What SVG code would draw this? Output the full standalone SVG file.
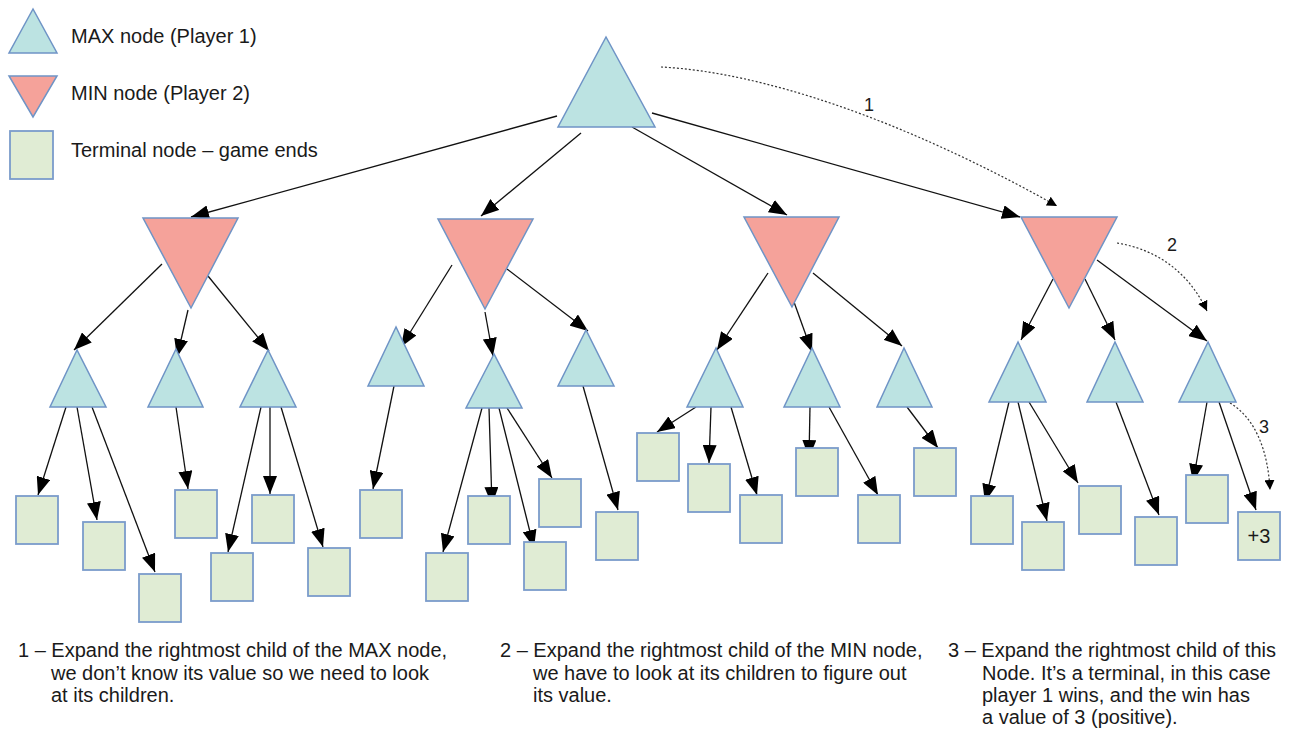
<svg xmlns="http://www.w3.org/2000/svg" width="1291" height="748" viewBox="0 0 1291 748">
<defs>
<style>
.max{fill:#bce3e2;stroke:#6f94c6;stroke-width:1.5}
.min{fill:#f5a29a;stroke:#6f94c6;stroke-width:1.5}
.term{fill:#e0ecd4;stroke:#7b9ccb;stroke-width:1.8}
.e{stroke:#111;stroke-width:1.3;fill:none;marker-end:url(#ah)}
.d{stroke:#333;stroke-width:1.2;fill:none;stroke-dasharray:2 2;marker-end:url(#ahs)}
text{font-family:"Liberation Sans",Arial,sans-serif;fill:#1a1a1a}
.t{font-size:20px}
.lbl{font-size:18px}
</style>
<marker id="ah" markerUnits="userSpaceOnUse" markerWidth="19" markerHeight="14" refX="18" refY="7" orient="auto"><path d="M0,0 L18,7 L0,14 z" fill="#000"/></marker>
<marker id="ahs" markerUnits="userSpaceOnUse" markerWidth="11" markerHeight="10" refX="10" refY="5" orient="auto"><path d="M0,0 L10,5 L0,10 z" fill="#000"/></marker>
</defs>
<rect width="1291" height="748" fill="#fff"/>

<g id="legend">
<polygon class="max" points="33,9 9,53 57,53"/>
<text class="t" x="71" y="43">MAX node (Player 1)</text>
<polygon class="min" points="9,76 57,76 33,117"/>
<text class="t" x="71" y="100">MIN node (Player 2)</text>
<rect class="term" x="10" y="131" width="43" height="48"/>
<text class="t" x="71" y="157">Terminal node – game ends</text>
</g>

<g id="connectors">
<line class="e" x1="557" y1="116" x2="191" y2="217"/>
<line class="e" x1="581" y1="133" x2="481" y2="216"/>
<line class="e" x1="632" y1="127" x2="787" y2="215"/>
<line class="e" x1="652" y1="113" x2="1020" y2="217"/>

<line class="e" x1="162" y1="264" x2="74" y2="350"/>
<line class="e" x1="188" y1="310" x2="177" y2="357"/>
<line class="e" x1="208" y1="276" x2="269" y2="351"/>
<line class="e" x1="66" y1="407" x2="38" y2="495"/>
<line class="e" x1="77" y1="407" x2="97" y2="520"/>
<line class="e" x1="92" y1="407" x2="155" y2="572"/>
<line class="e" x1="176" y1="407" x2="188" y2="489"/>
<line class="e" x1="261" y1="407" x2="228" y2="552"/>
<line class="e" x1="270" y1="407" x2="270" y2="494"/>
<line class="e" x1="281" y1="407" x2="323" y2="547"/>

<line class="e" x1="452" y1="265" x2="401" y2="347"/>
<line class="e" x1="485" y1="312" x2="493" y2="356"/>
<line class="e" x1="507" y1="269" x2="588" y2="331"/>
<line class="e" x1="394" y1="386" x2="373" y2="489"/>
<line class="e" x1="482" y1="408" x2="443" y2="552"/>
<line class="e" x1="489" y1="408" x2="492" y2="505"/>
<line class="e" x1="499" y1="408" x2="534" y2="548"/>
<line class="e" x1="507" y1="408" x2="552" y2="478"/>
<line class="e" x1="583" y1="386" x2="618" y2="510"/>

<line class="e" x1="768" y1="273" x2="717" y2="350"/>
<line class="e" x1="794" y1="302" x2="812" y2="352"/>
<line class="e" x1="813" y1="273" x2="902" y2="346"/>
<line class="e" x1="696" y1="407" x2="657" y2="432"/>
<line class="e" x1="711" y1="407" x2="709" y2="463"/>
<line class="e" x1="731" y1="407" x2="757" y2="495"/>
<line class="e" x1="810" y1="407" x2="809" y2="458"/>
<line class="e" x1="829" y1="407" x2="878" y2="495"/>
<line class="e" x1="907" y1="407" x2="938" y2="448"/>

<line class="e" x1="1053" y1="279" x2="1021" y2="340"/>
<line class="e" x1="1085" y1="279" x2="1115" y2="340"/>
<line class="e" x1="1097" y1="260" x2="1207" y2="341"/>
<line class="e" x1="1009" y1="402" x2="985" y2="502"/>
<line class="e" x1="1018" y1="402" x2="1047" y2="521"/>
<line class="e" x1="1029" y1="402" x2="1078" y2="483"/>
<line class="e" x1="1116" y1="402" x2="1159" y2="515"/>
<line class="e" x1="1207" y1="402" x2="1193" y2="482"/>
<line class="e" x1="1219" y1="402" x2="1256" y2="510"/>

<path class="d" d="M661,67 C760,72 900,118 1057,206"/>
<path class="d" d="M1117,243 C1160,250 1190,275 1207,311"/>
<path class="d" d="M1230,403 C1255,418 1268,450 1270,490"/>
<text class="lbl" x="864" y="111">1</text>
<text class="lbl" x="1167" y="251">2</text>
<text class="lbl" x="1259" y="433">3</text>
</g>

<g id="root"><polygon class="max" points="606,37 558,127 655,127"/></g>

<g id="min1"><polygon class="min" points="143,218 238,218 191,308"/></g>
<g id="min2"><polygon class="min" points="438,219 533,219 485,309"/></g>
<g id="min3"><polygon class="min" points="744,217 839,217 792,307"/></g>
<g id="min4"><polygon class="min" points="1021,217 1117,217 1069,308"/></g>

<g id="maxA"><polygon class="max" points="77,350 50,407 106,407"/></g>
<g id="maxB"><polygon class="max" points="176,349 148,407 203,407"/></g>
<g id="maxC"><polygon class="max" points="268,350 240,407 296,407"/></g>
<g id="maxD"><polygon class="max" points="396,327 368,386 424,386"/></g>
<g id="maxE"><polygon class="max" points="494,354 466,408 522,408"/></g>
<g id="maxF"><polygon class="max" points="586,330 558,386 614,386"/></g>
<g id="maxG"><polygon class="max" points="716,348 687,407 743,407"/></g>
<g id="maxH"><polygon class="max" points="812,348 784,407 840,407"/></g>
<g id="maxI"><polygon class="max" points="904,348 877,407 932,407"/></g>
<g id="maxJ"><polygon class="max" points="1018,342 989,402 1046,402"/></g>
<g id="maxK"><polygon class="max" points="1115,342 1087,402 1143,402"/></g>
<g id="maxL"><polygon class="max" points="1208,342 1179,402 1236,402"/></g>

<g id="t1"><rect class="term" x="16" y="496" width="42" height="48"/></g>
<g id="t2"><rect class="term" x="83" y="522" width="42" height="48"/></g>
<g id="t3"><rect class="term" x="139" y="574" width="42" height="48"/></g>
<g id="t4"><rect class="term" x="175" y="490" width="42" height="48"/></g>
<g id="t5"><rect class="term" x="211" y="553" width="42" height="48"/></g>
<g id="t6"><rect class="term" x="252" y="495" width="42" height="48"/></g>
<g id="t7"><rect class="term" x="308" y="548" width="42" height="48"/></g>
<g id="t8"><rect class="term" x="360" y="490" width="42" height="48"/></g>
<g id="t9"><rect class="term" x="426" y="553" width="42" height="48"/></g>
<g id="t10"><rect class="term" x="468" y="496" width="42" height="48"/></g>
<g id="t11"><rect class="term" x="524" y="542" width="42" height="48"/></g>
<g id="t12"><rect class="term" x="539" y="479" width="42" height="48"/></g>
<g id="t13"><rect class="term" x="596" y="512" width="42" height="48"/></g>
<g id="t14"><rect class="term" x="637" y="433" width="42" height="48"/></g>
<g id="t15"><rect class="term" x="688" y="464" width="42" height="48"/></g>
<g id="t16"><rect class="term" x="740" y="495" width="42" height="48"/></g>
<g id="t17"><rect class="term" x="796" y="448" width="42" height="48"/></g>
<g id="t18"><rect class="term" x="858" y="495" width="42" height="48"/></g>
<g id="t19"><rect class="term" x="914" y="448" width="42" height="48"/></g>
<g id="t20"><rect class="term" x="971" y="496" width="42" height="48"/></g>
<g id="t21"><rect class="term" x="1022" y="522" width="42" height="48"/></g>
<g id="t22"><rect class="term" x="1079" y="486" width="42" height="48"/></g>
<g id="t23"><rect class="term" x="1135" y="517" width="42" height="48"/></g>
<g id="t24"><rect class="term" x="1186" y="475" width="42" height="48"/></g>
<g id="t25"><rect class="term" x="1238" y="512" width="42" height="48"/><text x="1259" y="543" font-size="20" text-anchor="middle">+3</text></g>

<g id="notes">
<text class="t" x="18" y="657">1 – Expand the rightmost child of the MAX node,</text>
<text class="t" x="51" y="680">we don’t know its value so we need to look</text>
<text class="t" x="51" y="702">at its children.</text>
<text class="t" x="500" y="657">2 – Expand the rightmost child of the MIN node,</text>
<text class="t" x="533" y="680">we have to look at its children to figure out</text>
<text class="t" x="533" y="702">its value.</text>
<text class="t" x="948" y="657">3 – Expand the rightmost child of this</text>
<text class="t" x="982" y="680">Node. It’s a terminal, in this case</text>
<text class="t" x="982" y="702">player 1 wins, and the win has</text>
<text class="t" x="982" y="724">a value of 3 (positive).</text>
</g>
</svg>
